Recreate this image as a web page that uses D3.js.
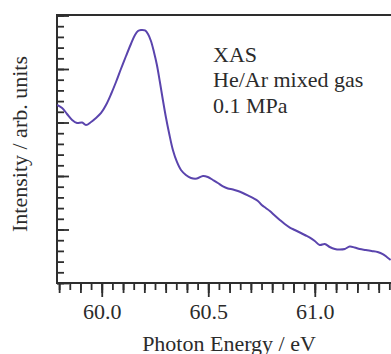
<!DOCTYPE html>
<html><head><meta charset="utf-8">
<script src="https://cdn.jsdelivr.net/npm/d3@7"></script>
<style>
html,body{margin:0;padding:0;background:#fff;}
svg{display:block;}
text{font-family:"Liberation Serif","Times New Roman",serif;fill:#2b2b2b;}
</style></head>
<body>
<script>
// Photon energy (eV)
const energy = [59.790,59.814,59.837,59.861,59.884,59.908,59.926,59.950,59.973,59.997,60.020,60.044,60.067,60.090,60.114,60.137,60.156,60.170,60.184,60.203,60.217,60.231,60.245,60.259,60.273,60.287,60.301,60.316,60.334,60.353,60.372,60.395,60.419,60.447,60.475,60.498,60.522,60.545,60.569,60.592,60.616,60.639,60.662,60.686,60.709,60.733,60.751,60.770,60.789,60.812,60.836,60.859,60.883,60.906,60.930,60.953,60.977,61.000,61.023,61.047,61.070,61.094,61.117,61.141,61.164,61.187,61.211,61.239,61.267,61.295,61.319,61.338,61.356];
// Intensity (arb. units)
const intensity = [3.327,3.271,3.159,3.047,2.991,3.000,2.953,3.009,3.084,3.178,3.327,3.533,3.757,4.000,4.243,4.467,4.636,4.710,4.729,4.720,4.654,4.523,4.318,4.075,3.757,3.421,3.103,2.804,2.486,2.262,2.112,2.019,1.963,1.953,2.000,1.981,1.925,1.869,1.804,1.766,1.748,1.720,1.682,1.636,1.589,1.533,1.458,1.402,1.346,1.262,1.178,1.103,1.037,0.991,0.944,0.897,0.850,0.785,0.710,0.729,0.673,0.636,0.626,0.636,0.682,0.664,0.636,0.617,0.598,0.579,0.542,0.486,0.430];
const xMajorTicks = [60.0, 60.5, 61.0];
const xTickLabels = ["60.0", "60.5", "61.0"];
const annotationLines = ["XAS", "He/Ar mixed gas", "0.1 MPa"];
const xTitle = "Photon Energy / eV";
const yTitle = "Intensity / arb. units";

const W = 391, H = 354;
const mL = 57, mT = 15, mB = 283, mR = 400;
const svg = d3.select("body").append("svg").attr("width", W).attr("height", H);

const x = d3.scaleLinear().domain([59.79, 61.40]).range([mL, mR]);
const y = d3.scaleLinear().domain([0, 5]).range([mB, mT + 0.5]);

const axisColor = "#2e2e2e";
function styleAxis(g){
  g.select(".domain").remove();
  g.selectAll(".tick line").attr("stroke", axisColor).attr("stroke-width", 1.8);
}

// X minor ticks (0.05), medium (0.1), major (0.5)
const xMinor = d3.range(59.80, 61.40, 0.05).map(v => +v.toFixed(2));
const xMed = d3.range(59.80, 61.40, 0.1).map(v => +v.toFixed(2));
svg.append("g").attr("transform", `translate(0,${mB})`)
  .call(d3.axisBottom(x).tickValues(xMinor).tickSize(7).tickFormat(""))
  .call(styleAxis);
svg.append("g").attr("transform", `translate(0,${mB})`)
  .call(d3.axisBottom(x).tickValues(xMed).tickSize(10).tickFormat(""))
  .call(styleAxis);
const gx = svg.append("g").attr("transform", `translate(0,${mB})`)
  .call(d3.axisBottom(x).tickValues(xMajorTicks).tickSize(14).tickPadding(6)
    .tickFormat((d,i) => xTickLabels[i]))
  .call(styleAxis);
gx.selectAll(".tick text").attr("font-size", 22).attr("fill", "#2b2b2b")
  .attr("font-family", '"Liberation Serif", serif').attr("dy", "0.71em");

// Y ticks inward
const yMinor = d3.range(0, 5.01, 0.2).map(v => +v.toFixed(2));
const yMajor = d3.range(0, 5.01, 1);
svg.append("g").attr("transform", `translate(${mL},0)`)
  .call(d3.axisLeft(y).tickValues(yMinor).tickSizeInner(-7).tickSizeOuter(0).tickFormat(""))
  .call(styleAxis);
svg.append("g").attr("transform", `translate(${mL},0)`)
  .call(d3.axisLeft(y).tickValues(yMajor).tickSizeInner(-12).tickSizeOuter(0).tickFormat(""))
  .call(styleAxis);

// Frame lines
svg.append("line").attr("x1", mL).attr("x2", W).attr("y1", mT).attr("y2", mT)
  .attr("stroke", axisColor).attr("stroke-width", 2);
svg.append("line").attr("x1", mL).attr("x2", mL).attr("y1", mT - 1).attr("y2", mB + 1)
  .attr("stroke", axisColor).attr("stroke-width", 2);
svg.append("line").attr("x1", mL - 1).attr("x2", W).attr("y1", mB).attr("y2", mB)
  .attr("stroke", axisColor).attr("stroke-width", 2);

// Curve
svg.append("defs").append("clipPath").attr("id", "clip")
  .append("rect").attr("x", mL).attr("y", mT).attr("width", mR - mL).attr("height", mB - mT);
const pts = energy.map((e, i) => [e, intensity[i]]);
svg.append("path").datum(pts)
  .attr("clip-path", "url(#clip)")
  .attr("fill", "none").attr("stroke", "#5a44ad").attr("stroke-width", 2)
  .attr("stroke-linejoin", "round")
  .attr("d", d3.line().x(d => x(d[0])).y(d => y(d[1])).curve(d3.curveCatmullRom));

// Annotation
annotationLines.forEach((t, i) => {
  svg.append("text").attr("x", 213).attr("y", 62 + i * 25.3)
    .attr("font-size", 22).text(t);
});

// Axis titles
svg.append("text").attr("x", 229).attr("y", 351).attr("text-anchor", "middle")
  .attr("font-size", 22).text(xTitle);
svg.append("text").attr("transform", "translate(27,144) rotate(-90)")
  .attr("text-anchor", "middle").attr("font-size", 22).text(yTitle);
</script>
</body></html>
